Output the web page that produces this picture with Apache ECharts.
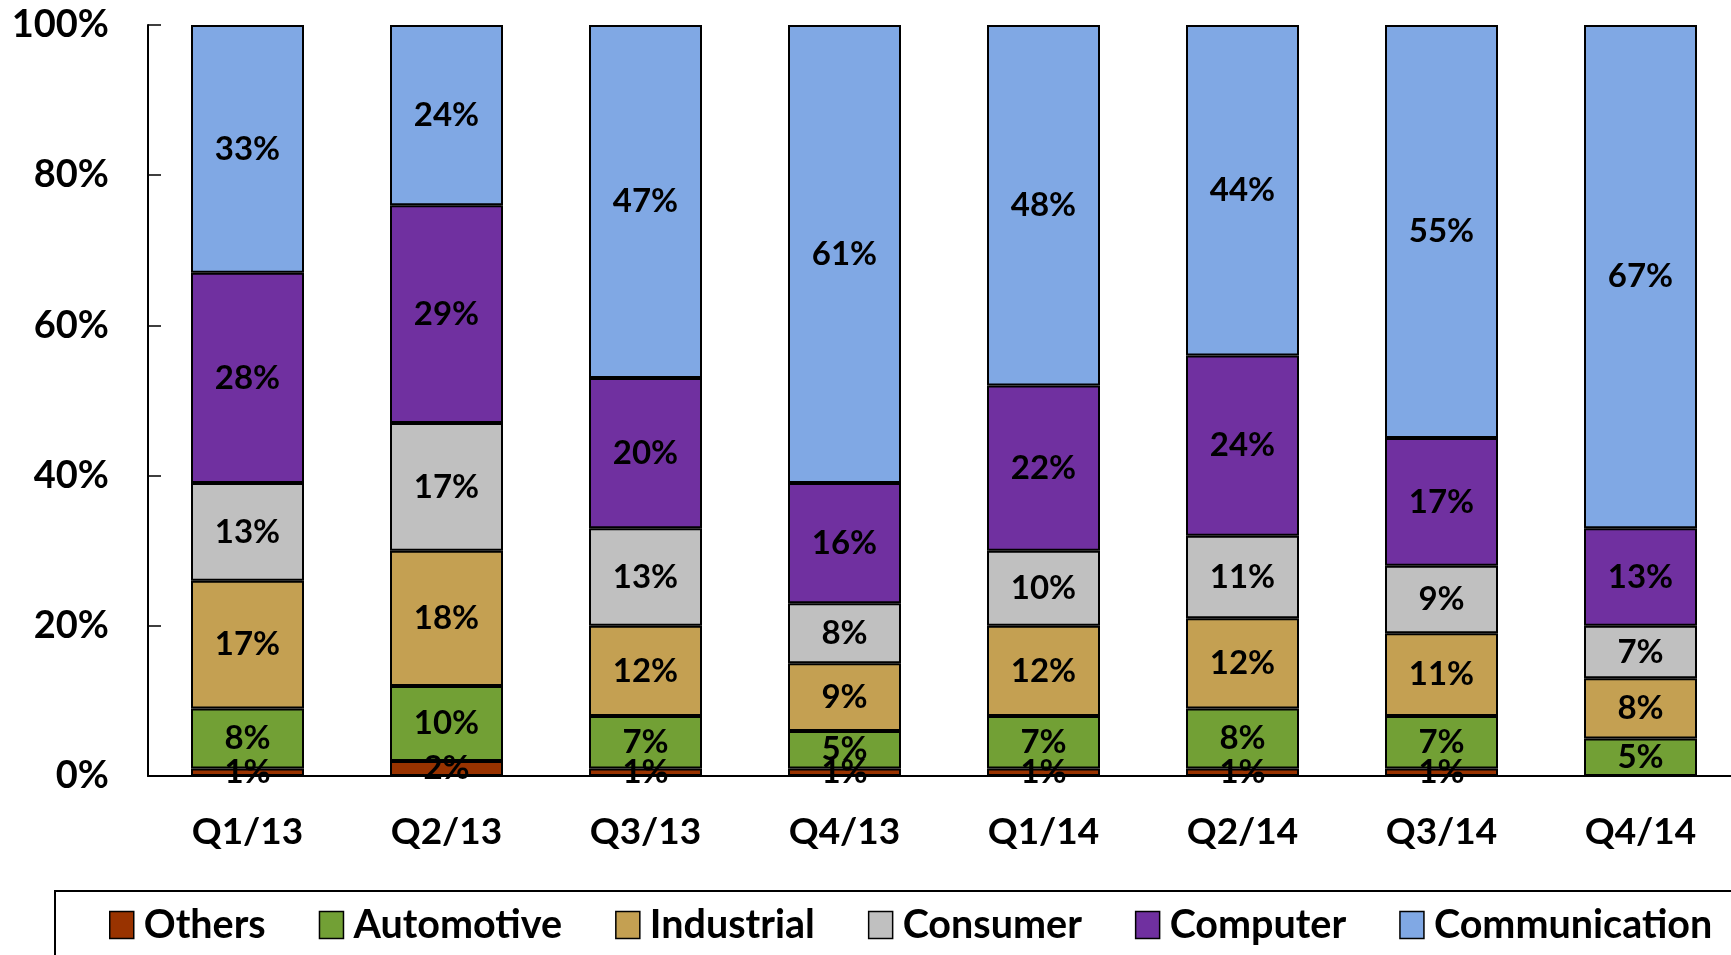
<!DOCTYPE html>
<html>
<head>
<meta charset="utf-8">
<script src="https://cdn.jsdelivr.net/npm/echarts@6/dist/echarts.min.js"></script>
<style>
  html, body { margin: 0; padding: 0; background: #fff; overflow: hidden; }
  #chart { width: 1740px; height: 955px; }
</style>
</head>
<body>
<div id="chart"></div>
<script>
// quarters on the x axis
var quarters = ['Q1/13', 'Q2/13', 'Q3/13', 'Q4/13', 'Q1/14', 'Q2/14', 'Q3/14', 'Q4/14'];

// share of each segment, in percent
var others        = [1, 2, 1, 1, 1, 1, 1, 0];
var automotive    = [8, 10, 7, 5, 7, 8, 7, 5];
var industrial    = [17, 18, 12, 9, 12, 12, 11, 8];
var consumer      = [13, 17, 13, 8, 10, 11, 9, 7];
var computer      = [28, 29, 20, 16, 22, 24, 17, 13];
var communication = [33, 24, 47, 61, 48, 44, 55, 67];

var FONT = 'Lato';

function makeSeries(name, data, color) {
  return {
    name: name,
    type: 'bar',
    stack: 'total',
    data: data,
    barWidth: 113,
    itemStyle: {
      color: color,
      borderColor: '#000',
      borderWidth: 2
    },
    label: {
      show: true,
      position: 'inside',
      color: '#000',
      fontFamily: FONT,
      fontWeight: 'bold',
      fontSize: 33,
      formatter: function (p) {
        return p.value > 0 ? p.value + '%' : '';
      }
    }
  };
}

var chart = echarts.init(document.getElementById('chart'));
chart.setOption({
  animation: false,
  grid: {
    left: 148,
    top: 25,
    bottom: 179,
    right: 0
  },
  legend: {
    left: 104,
    top: 900,
    itemWidth: 24,
    itemHeight: 27,
    itemGap: 53,
    icon: 'rect',
    itemStyle: { borderColor: '#000', borderWidth: 1.5 },
    textStyle: {
      fontFamily: FONT,
      fontWeight: 'bold',
      fontSize: 39.5,
      color: '#000',
      padding: [0, 0, 0, 5]
    }
  },
  graphic: [{
    type: 'rect',
    z: -1,
    shape: { x: 55, y: 891, width: 1720, height: 120 },
    style: { fill: 'none', stroke: '#000', lineWidth: 2 }
  }],
  xAxis: {
    type: 'category',
    data: quarters,
    axisLine: { lineStyle: { color: '#000', width: 2 } },
    axisTick: { inside: true, length: 13, lineStyle: { color: '#000', width: 1.5 } },
    axisLabel: {
      margin: 38,
      color: '#000',
      fontFamily: FONT,
      fontWeight: 'bold',
      fontSize: 37
    }
  },
  yAxis: {
    type: 'value',
    min: 0,
    max: 100,
    interval: 20,
    splitLine: { show: false },
    axisLine: { show: true, lineStyle: { color: '#000', width: 2 } },
    axisTick: { show: true, inside: true, length: 13, lineStyle: { color: '#000', width: 1.5 } },
    axisLabel: {
      margin: 39,
      color: '#000',
      fontFamily: FONT,
      fontWeight: 'bold',
      fontSize: 38,
      formatter: '{value}%'
    }
  },
  series: [
    makeSeries('Others', others, '#993300'),
    makeSeries('Automotive', automotive, '#72A035'),
    makeSeries('Industrial', industrial, '#C4A052'),
    makeSeries('Consumer', consumer, '#C0C0C0'),
    makeSeries('Computer', computer, '#7030A0'),
    makeSeries('Communication', communication, '#80A8E4')
  ]
});
</script>
</body>
</html>
